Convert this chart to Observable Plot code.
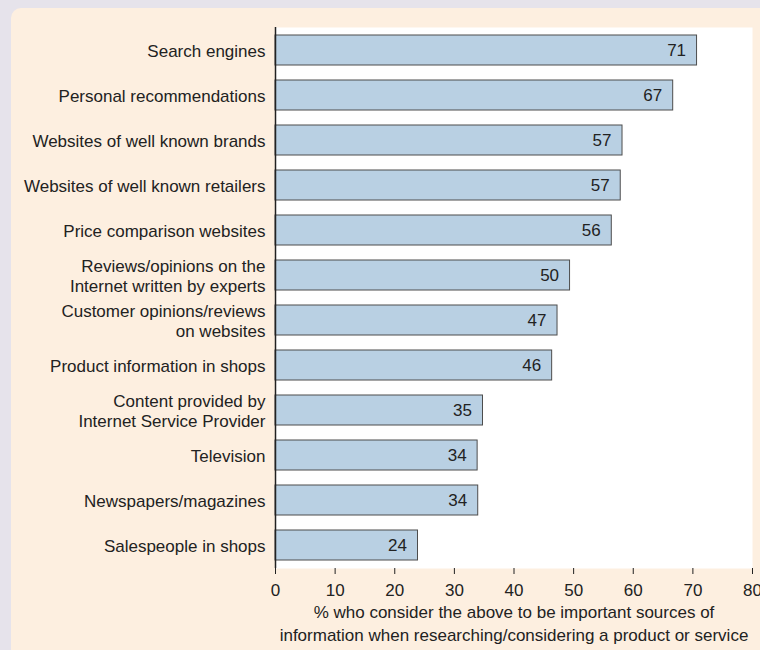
<!DOCTYPE html>
<html>
<head>
<meta charset="utf-8">
<script src="https://cdn.jsdelivr.net/npm/d3@7"></script>
<script src="https://cdn.jsdelivr.net/npm/@observablehq/plot@0.6"></script>
<style>
  html, body { margin: 0; padding: 0; background: #e6e3eb; }
  body { width: 760px; height: 650px; overflow: hidden; position: relative; }
  #panel { position: absolute; left: 11px; top: 8px; width: 760px; height: 660px; background: #fdefe0; border-top-left-radius: 10px; }
  #chart { position: absolute; left: 0; top: 0; }
  #chart svg { background: transparent; }
</style>
</head>
<body>
<div id="panel"></div>
<div id="chart"></div>
<script>
const categories = [
  "Search engines",
  "Personal recommendations",
  "Websites of well known brands",
  "Websites of well known retailers",
  "Price comparison websites",
  "Reviews/opinions on the\nInternet written by experts",
  "Customer opinions/reviews\non websites",
  "Product information in shops",
  "Content provided by\nInternet Service Provider",
  "Television",
  "Newspapers/magazines",
  "Salespeople in shops"
];
const barValues = [70.7, 66.7, 58.2, 57.9, 56.4, 49.4, 47.3, 46.4, 34.8, 33.9, 34.0, 23.9];
const valueLabels = ["71", "67", "57", "57", "56", "50", "47", "46", "35", "34", "34", "24"];
const xTicks = [0, 10, 20, 30, 40, 50, 60, 70, 80];
const xTitle = "% who consider the above to be important sources of\ninformation when researching/considering a product or service";

const data = categories.map((c, i) => ({category: c, value: barValues[i], label: valueLabels[i]}));
const font = "Liberation Sans, Arial, Helvetica, sans-serif";

const chart = Plot.plot({
  width: 760,
  height: 650,
  marginLeft: 275,
  marginRight: 8,
  marginTop: 27,
  marginBottom: 82,
  style: {fontFamily: font, fontSize: "17px", color: "#222", background: "transparent"},
  x: {domain: [0, 80], ticks: xTicks},
  y: {domain: categories, padding: 0.333, range: [20, 575]},
  marks: [
    Plot.frame({fill: "white", stroke: null}),
    Plot.barX(data, {x: "value", y: "category", fill: "#b9d0e3", stroke: "#4d4d4d", strokeWidth: 1}),
    Plot.text(data, {x: "value", y: "category", text: "label", textAnchor: "end", dx: -11, fill: "#222", fontSize: 17}),
    Plot.text(data, {x: 0, y: "category", text: "category", textAnchor: "end", dx: -10, fill: "#222", fontSize: 17, lineHeight: 1.2}),
    Plot.ruleX([0], {stroke: "#222", strokeWidth: 1.5}),
    Plot.ruleY([0], {stroke: "#222", strokeWidth: 1.5}),
    Plot.axisX({ticks: xTicks, tickSize: 6, tickPadding: 9, fontSize: 17, label: null, stroke: "#222", color: "#222"}),
    Plot.axisY({ticks: [], label: null, tickSize: 0}),
    Plot.text([xTitle], {frameAnchor: "bottom", dy: 72, fontSize: 17, lineHeight: 1.3, fill: "#222", textAnchor: "middle"})
  ]
});
document.getElementById("chart").appendChild(chart);
</script>
</body>
</html>
